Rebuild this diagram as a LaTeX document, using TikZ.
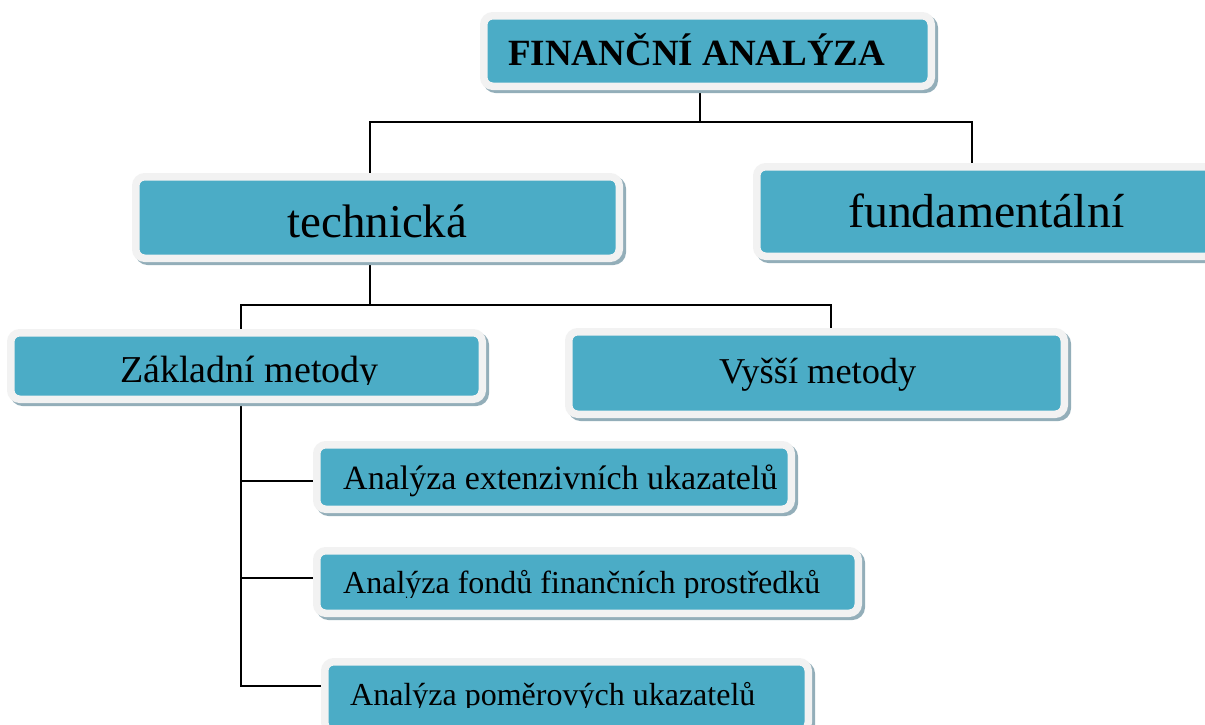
\documentclass[tikz,border=0pt]{standalone}
\usepackage{fontspec}
\setmainfont{Liberation Serif}
\usetikzlibrary{calc}
\pgfdeclarelayer{bg}
\pgfsetlayers{bg,main}
\definecolor{tealfill}{HTML}{4BACC6}
\definecolor{rimcol}{HTML}{F2F2F2}
\definecolor{shadecol}{HTML}{93AEB9}
\tikzset{
  box/.style={rectangle, rounded corners=9pt, fill=tealfill, draw=rimcol, line width=7.5pt, inner sep=0pt,
     preaction={draw=shadecol, fill=shadecol, line width=7.5pt, transform canvas={xshift=3pt, yshift=-3pt}}},
  lbl/.style={anchor=base west, inner sep=0pt, text=black},
  conn/.style={draw=black, line width=2pt},
}
\begin{document}
\begin{tikzpicture}[x=1pt, y=-1pt]
\useasboundingbox (0,0) rectangle (1205,724);
\begin{scope}
\clip (0,0) rectangle (1205,724);
% boxes
\node[box, minimum width=447.5pt, minimum height=70.5pt] (top) at (707.5,51) {};
\node[box, minimum width=483.5pt, minimum height=81.5pt] (tech) at (377.5,217.5) {};
\node[box, minimum width=464.5pt, minimum height=89.5pt] (fund) at (989,211.5) {};
\node[box, minimum width=471.5pt, minimum height=66.5pt] (zakl) at (246.5,366) {};
\node[box, minimum width=495.5pt, minimum height=82.5pt] (vyssi) at (816.5,373) {};
\node[box, minimum width=474.5pt, minimum height=64.5pt] (a1) at (554,477) {};
\node[box, minimum width=541.5pt, minimum height=62.5pt] (a2) at (587.5,582) {};
\node[box, minimum width=483.5pt, minimum height=69.5pt] (a3) at (566.5,696.5) {};
% labels
\node[lbl, font=\bfseries\fontsize{37}{37}\selectfont] (ltop) at (508,65) {FINANČNÍ ANALÝZA};
\node[lbl, font=\fontsize{47}{47}\selectfont] (ltech) at (287,237) {technická};
\node[lbl, font=\fontsize{47.8}{47.8}\selectfont] (lfund) at (848,227) {fundamentální};
\node[lbl, font=\fontsize{36.4}{36.4}\selectfont] (lvyssi) at (719,383) {Vyšší metody};
\node[lbl, font=\fontsize{34}{34}\selectfont] (la1) at (343,489) {Analýza extenzivních ukazatelů};
\begin{scope}
\clip (0,300) rectangle (1205,384);
\node[lbl, font=\fontsize{38}{38}\selectfont] (lzakl) at (120,382) {Základní metody};
\end{scope}
\begin{scope}
\clip (0,540) rectangle (1205,597);
\node[lbl, font=\fontsize{32}{32}\selectfont] (la2) at (343,593) {Analýza fondů finančních prostředků};
\end{scope}
\begin{scope}
\clip (0,650) rectangle (1205,707);
\node[lbl, font=\fontsize{32}{32}\selectfont] (la3) at (350,705) {Analýza poměrových ukazatelů};
\end{scope}
% connectors
\begin{pgfonlayer}{bg}
\draw[conn] ($(top.center)+(-7.5,0)$) -- ++(0,71) -| ($(tech.center)+(-7.5,0)$);
\draw[conn] ($(top.center)+(-7.5,0)$) -- ++(0,71) -| ($(fund.center)+(-17,0)$);
\draw[conn] ($(tech.center)+(-7.5,0)$) -- ++(0,87.5) -| ($(zakl.center)+(-5.5,0)$);
\draw[conn] ($(tech.center)+(-7.5,0)$) -- ++(0,87.5) -| ($(vyssi.center)+(14.5,0)$);
\draw[conn] ($(zakl.center)+(-5.5,0)$) |- ($(a1.center)+(0,4)$);
\draw[conn] ($(zakl.center)+(-5.5,0)$) |- ($(a2.center)+(0,-4)$);
\draw[conn] ($(zakl.center)+(-5.5,0)$) |- ($(a3.center)+(0,-10.5)$);
\end{pgfonlayer}
\end{scope}
\end{tikzpicture}
\end{document}
